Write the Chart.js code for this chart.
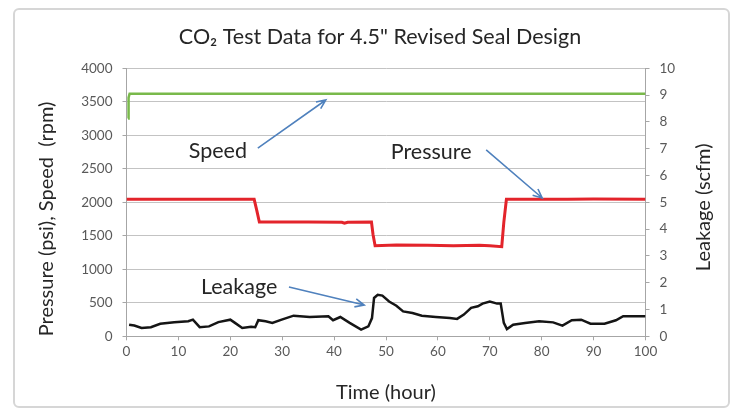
<!DOCTYPE html>
<html>
<head>
<meta charset="utf-8">
<script src="https://cdn.jsdelivr.net/npm/chart.js@4.4.0/dist/chart.umd.min.js"></script>
<style>
  html, body { margin: 0; padding: 0; background: #fff; }
  #wrap { position: relative; width: 736px; height: 410px; }
  #frame { position: absolute; left: 13px; top: 8px; width: 713px; height: 396px;
           border: 2px solid #d6d6d6; border-radius: 6px; pointer-events: none; }
</style>
</head>
<body>
<div id="wrap">
  <canvas id="chart" width="736" height="410"></canvas>
  <div id="frame"></div>
</div>
<script>
// speed (rpm) vs time (hour)
const speedTime = [0.3, 0.4, 0.6, 100];
const speedRpm = [3250, 3560, 3620, 3620];

// pressure (psi) vs time
const pressureTime = [0, 24.6, 25.1, 25.6, 35, 41.5, 42, 42.6, 47.2, 47.5, 47.9, 52, 58, 63, 68, 70, 72.3, 72.7, 73.2, 85, 90, 100];
const pressurePsi = [2045, 2045, 1880, 1705, 1705, 1702, 1688, 1703, 1705, 1520, 1352, 1362, 1360, 1352, 1358, 1350, 1338, 1700, 2045, 2047, 2050, 2045];

// leakage (scfm) vs time
const leakTime = [0.5, 1.5, 2.9, 4.7, 6.5, 9.2, 11.9, 12.8, 14.1, 15.9, 17.7, 20.0, 20.9, 22.3, 24.0, 24.8, 25.4, 26.8, 28.1, 29.9,
  32.2, 35.3, 38.9, 39.8, 41.2, 43.0, 45.2, 46.6, 47.3, 47.7, 48.4, 49.3, 50.6, 52.0, 53.3, 55.1, 56.9, 59.6, 62.3, 63.7,
  65.0, 66.4, 67.7, 68.6, 70.0, 71.4, 72.1, 72.7, 73.3, 74.5, 76.8, 79.5, 82.2, 84.0, 85.8, 87.6, 89.4, 92.1, 94.3, 95.7, 100];
const leakScfm = [0.43, 0.40, 0.31, 0.34, 0.47, 0.52, 0.56, 0.62, 0.34, 0.37, 0.53, 0.62, 0.50, 0.31, 0.36, 0.34, 0.60, 0.56, 0.50, 0.62,
  0.77, 0.72, 0.75, 0.60, 0.72, 0.50, 0.25, 0.37, 0.68, 1.43, 1.55, 1.52, 1.30, 1.14, 0.93, 0.87, 0.77, 0.72, 0.68, 0.65,
  0.81, 1.06, 1.12, 1.22, 1.30, 1.22, 1.22, 0.50, 0.27, 0.43, 0.50, 0.56, 0.52, 0.40, 0.60, 0.62, 0.47, 0.47, 0.60, 0.75, 0.75];

const pairs = (xs, ys) => xs.map((x, i) => ({ x: x, y: ys[i] }));

const FONT = 'Lato, "Open Sans", sans-serif';

// callout labels with arrows, in data units (time, psi)
const callouts = [
  { text: 'Speed', at: [17.6, 2766], from: [25.3, 2810], to: [38.4, 3527] },
  { text: 'Pressure', at: [58.7, 2751], from: [69.3, 2781], to: [80.1, 2064] },
  { text: 'Leakage', at: [21.7, 736], from: [31.3, 736], to: [45.8, 467] }
];

const calloutPlugin = {
  id: 'callouts',
  afterDatasetsDraw(chart) {
    const ctx = chart.ctx;
    const xs = chart.scales.x, ys = chart.scales.y;
    ctx.save();
    ctx.font = '21.5px ' + FONT;
    ctx.fillStyle = '#262626';
    ctx.textAlign = 'center';
    ctx.textBaseline = 'middle';
    ctx.strokeStyle = '#4f81bd';
    ctx.lineWidth = 1.6;
    callouts.forEach(c => {
      ctx.fillText(c.text, xs.getPixelForValue(c.at[0]), ys.getPixelForValue(c.at[1]));
      const x1 = xs.getPixelForValue(c.from[0]), y1 = ys.getPixelForValue(c.from[1]);
      const x2 = xs.getPixelForValue(c.to[0]), y2 = ys.getPixelForValue(c.to[1]);
      const a = Math.atan2(y2 - y1, x2 - x1);
      const h = 10, w = 0.42;
      ctx.beginPath();
      ctx.moveTo(x1, y1);
      ctx.lineTo(x2, y2);
      ctx.moveTo(x2 - h * Math.cos(a - w), y2 - h * Math.sin(a - w));
      ctx.lineTo(x2, y2);
      ctx.lineTo(x2 - h * Math.cos(a + w), y2 - h * Math.sin(a + w));
      ctx.stroke();
    });

    // right axis title reads bottom to top, like the left one
    const r = chart.scales.y1;
    ctx.translate(r.right - 32, (r.top + r.bottom) / 2 + 5);
    ctx.rotate(-Math.PI / 2);
    ctx.font = '20px ' + FONT;
    ctx.fillText('Leakage (scfm)', 0, 0);
    ctx.restore();
  }
};

const tickFont = { family: FONT, size: 13.5 };
const titleFont = { family: FONT, size: 20 };
const plain = v => String(v);

new Chart(document.getElementById('chart'), {
  type: 'line',
  data: {
    datasets: [
      { label: 'Speed', data: pairs(speedTime, speedRpm), yAxisID: 'y',
        borderColor: '#79b94b', borderWidth: 2.5 },
      { label: 'Pressure', data: pairs(pressureTime, pressurePsi), yAxisID: 'y',
        borderColor: '#e3242b', borderWidth: 3 },
      { label: 'Leakage', data: pairs(leakTime, leakScfm), yAxisID: 'y1',
        borderColor: '#151515', borderWidth: 2.5 }
    ]
  },
  options: {
    responsive: false,
    animation: false,
    devicePixelRatio: 1,
    layout: { padding: { left: 24, right: 0, top: 0, bottom: 0 } },
    elements: { point: { radius: 0 }, line: { tension: 0 } },
    plugins: {
      legend: { display: false },
      tooltip: { enabled: false },
      title: {
        display: true,
        text: 'CO\u2082 Test Data for 4.5" Revised Seal Design',
        color: '#262626',
        font: { family: FONT, size: 21.5, weight: 'normal' },
        padding: { top: 24, bottom: 18.5 }
      }
    },
    scales: {
      x: {
        type: 'linear', min: 0, max: 100,
        afterFit: s => { s.height = 73.7; },
        ticks: { stepSize: 10, font: tickFont, color: '#595959', padding: 3, callback: plain },
        grid: { drawOnChartArea: false, drawTicks: true, tickLength: 4, color: '#a6a6a6' },
        border: { color: '#a6a6a6', width: 1 },
        title: { display: true, text: 'Time (hour)', font: titleFont, color: '#262626', padding: { top: 0, bottom: 5 } }
      },
      y: {
        position: 'left', min: 0, max: 4000,
        afterFit: s => { s.width = 102.5; },
        ticks: { stepSize: 500, font: tickFont, color: '#595959', padding: 10, callback: plain },
        grid: { color: '#c3c3c3', tickLength: 4, tickColor: '#a6a6a6' },
        border: { color: '#a6a6a6', width: 1 },
        title: { display: true, text: 'Pressure (psi), Speed  (rpm)', align: 'start', font: titleFont, color: '#262626', padding: { top: 11, bottom: 0 } }
      },
      y1: {
        position: 'right', min: 0, max: 10,
        afterFit: s => { s.width = 90.5; },
        ticks: { stepSize: 1, font: tickFont, color: '#595959', padding: 10, callback: plain },
        grid: { drawOnChartArea: false, tickLength: 4, color: '#a6a6a6' },
        border: { color: '#a6a6a6', width: 1 },
        title: { display: false }
      }
    }
  },
  plugins: [calloutPlugin]
});
</script>
</body>
</html>
